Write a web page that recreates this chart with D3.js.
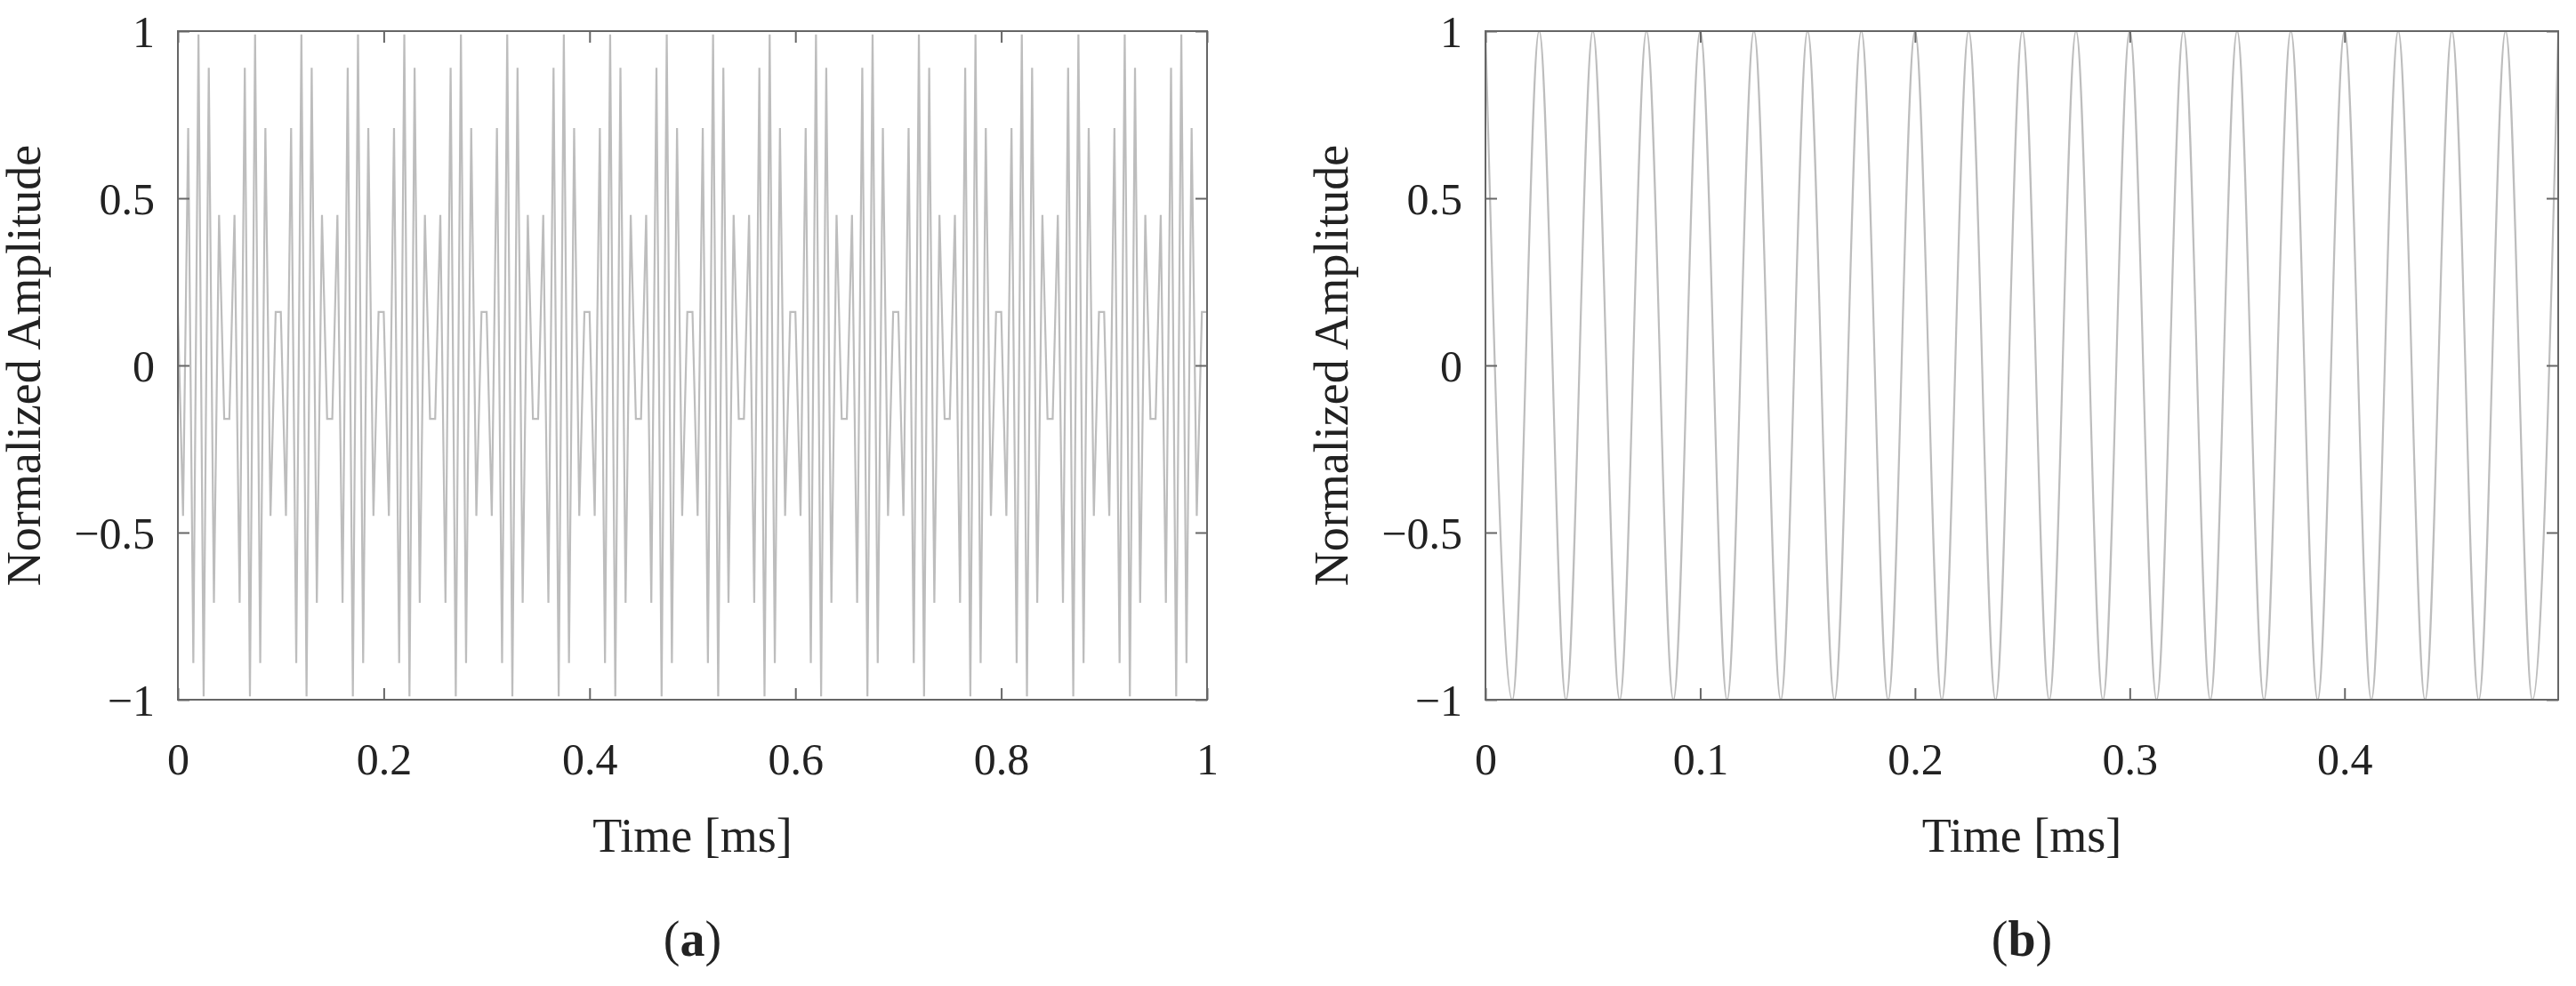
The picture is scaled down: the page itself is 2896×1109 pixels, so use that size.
<!DOCTYPE html>
<html><head><meta charset="utf-8">
<script src="https://cdn.jsdelivr.net/npm/d3@7/dist/d3.min.js"></script>
<style>body{margin:0;background:#fff}svg{display:block}text{font-family:"Liberation Serif","DejaVu Serif",serif;fill:#222}</style>
</head><body>
<script>
// Panel (a): sampled signal, 200 kHz sampling, 0..1 ms
const aSampleStep = 0.005; // ms between samples
const aSamples = [
 0.16,-0.45,0.71,-0.89,0.99,-0.99,0.89,-0.71,0.45,-0.16,-0.16,0.45,-0.71,0.89,-0.99,0.99,-0.89,0.71,-0.45,0.16,
 0.16,-0.45,0.71,-0.89,0.99,-0.99,0.89,-0.71,0.45,-0.16,-0.16,0.45,-0.71,0.89,-0.99,0.99,-0.89,0.71,-0.45,0.16,
 0.16,-0.45,0.71,-0.89,0.99,-0.99,0.89,-0.71,0.45,-0.16,-0.16,0.45,-0.71,0.89,-0.99,0.99,-0.89,0.71,-0.45,0.16,
 0.16,-0.45,0.71,-0.89,0.99,-0.99,0.89,-0.71,0.45,-0.16,-0.16,0.45,-0.71,0.89,-0.99,0.99,-0.89,0.71,-0.45,0.16,
 0.16,-0.45,0.71,-0.89,0.99,-0.99,0.89,-0.71,0.45,-0.16,-0.16,0.45,-0.71,0.89,-0.99,0.99,-0.89,0.71,-0.45,0.16,
 0.16,-0.45,0.71,-0.89,0.99,-0.99,0.89,-0.71,0.45,-0.16,-0.16,0.45,-0.71,0.89,-0.99,0.99,-0.89,0.71,-0.45,0.16,
 0.16,-0.45,0.71,-0.89,0.99,-0.99,0.89,-0.71,0.45,-0.16,-0.16,0.45,-0.71,0.89,-0.99,0.99,-0.89,0.71,-0.45,0.16,
 0.16,-0.45,0.71,-0.89,0.99,-0.99,0.89,-0.71,0.45,-0.16,-0.16,0.45,-0.71,0.89,-0.99,0.99,-0.89,0.71,-0.45,0.16,
 0.16,-0.45,0.71,-0.89,0.99,-0.99,0.89,-0.71,0.45,-0.16,-0.16,0.45,-0.71,0.89,-0.99,0.99,-0.89,0.71,-0.45,0.16,
 0.16,-0.45,0.71,-0.89,0.99,-0.99,0.89,-0.71,0.45,-0.16,-0.16,0.45,-0.71,0.89,-0.99,0.99,-0.89,0.71,-0.45,0.16,
 0.16];
// Panel (b): tone, extrema times (ms) and values
const bTimes = [0,0.0125,0.025,0.0375,0.05,0.0625,0.075,0.0875,0.1,0.1125,0.125,0.1375,0.15,0.1625,0.175,0.1875,0.2,0.2125,0.225,0.2375,
 0.25,0.2625,0.275,0.2875,0.3,0.3125,0.325,0.3375,0.35,0.3625,0.375,0.3875,0.4,0.4125,0.425,0.4375,0.45,0.4625,0.475,0.4875,0.4995];
const bValues = [1,-1,1,-1,1,-1,1,-1,1,-1,1,-1,1,-1,1,-1,1,-1,1,-1,1,-1,1,-1,1,-1,1,-1,1,-1,1,-1,1,-1,1,-1,1,-1,1,-1,0.99];
const aXTicks = [0,0.2,0.4,0.6,0.8,1];
const bXTicks = [0,0.1,0.2,0.3,0.4];
const yTicks = [-1,-0.5,0,0.5,1];
const yLabel = "Normalized Amplitude", xLabel = "Time [ms]";

const W=2896,H=1109;
const svg=d3.select("body").append("svg").attr("width",W).attr("height",H);
const pTop=35,pBottom=787;
const y=d3.scaleLinear().domain([-1,1]).range([pBottom,pTop]);
const fmt=v=>(v<0?"\u2212":"")+String(Math.abs(v));

function panel(left,right,xdom,xticks,pts,curve,lw,tag){
  const x=d3.scaleLinear().domain(xdom).range([left,right]);
  const g=svg.append("g");
  const clipId="c"+tag;
  g.append("clipPath").attr("id",clipId).append("rect").attr("x",left).attr("y",pTop).attr("width",right-left).attr("height",pBottom-pTop);
  g.append("path").datum(pts).attr("clip-path",`url(#${clipId})`)
   .attr("d",d3.line().x(d=>x(d[0])).y(d=>y(d[1])).curve(curve))
   .attr("fill","none").attr("stroke","#bdbdbd").attr("stroke-width",lw);
  const ax="#666";
  g.append("rect").attr("x",left).attr("y",pTop).attr("width",right-left).attr("height",pBottom-pTop)
   .attr("fill","none").attr("stroke",ax).attr("stroke-width",2);
  const xa=g.append("g").attr("transform",`translate(0,${pBottom})`)
   .call(d3.axisBottom(x).tickValues(xticks).tickSize(-13).tickPadding(48).tickFormat(d=>String(d)));
  const xt=g.append("g").attr("transform",`translate(0,${pTop})`)
   .call(d3.axisTop(x).tickValues(xticks).tickSize(-13).tickFormat(""));
  const ya=g.append("g").attr("transform",`translate(${left},0)`)
   .call(d3.axisLeft(y).tickValues(yTicks).tickSize(-13).tickPadding(26).tickFormat(fmt));
  const yr=g.append("g").attr("transform",`translate(${right},0)`)
   .call(d3.axisRight(y).tickValues(yTicks).tickSize(-13).tickFormat(""));
  [xa,xt,ya,yr].forEach(a=>{a.select(".domain").remove();a.selectAll("line").attr("stroke",ax).attr("stroke-width",2);
    a.selectAll("text").style("font-family",'"Liberation Serif",serif').style("font-size","50px").attr("fill","#222");});
  ya.selectAll("text").attr("dy","0.35em");
  g.append("text").attr("x",(left+right)/2).attr("y",958).attr("text-anchor","middle").style("font-size","54px").text(xLabel);
  g.append("text").attr("transform",`translate(${left-155},${(pTop+pBottom)/2}) rotate(-90)`).attr("text-anchor","middle")
   .style("font-size","54px").text(yLabel);
  const t=g.append("text").attr("x",(left+right)/2).attr("y",1075).attr("text-anchor","middle").style("font-size","56px");
  t.append("tspan").text("(");t.append("tspan").attr("font-weight","bold").text(tag);t.append("tspan").text(")");
}
const aPts=aSamples.map((v,i)=>[i*aSampleStep,v]);
const bPts=bTimes.map((t,i)=>[t,bValues[i]]);
panel(200,1357,[0,1],aXTicks,aPts,d3.curveLinear,2.2,"a");
panel(1670,2876,[0,0.4995],bXTicks,bPts,d3.curveMonotoneX,2.2,"b");
</script>
</body></html>
